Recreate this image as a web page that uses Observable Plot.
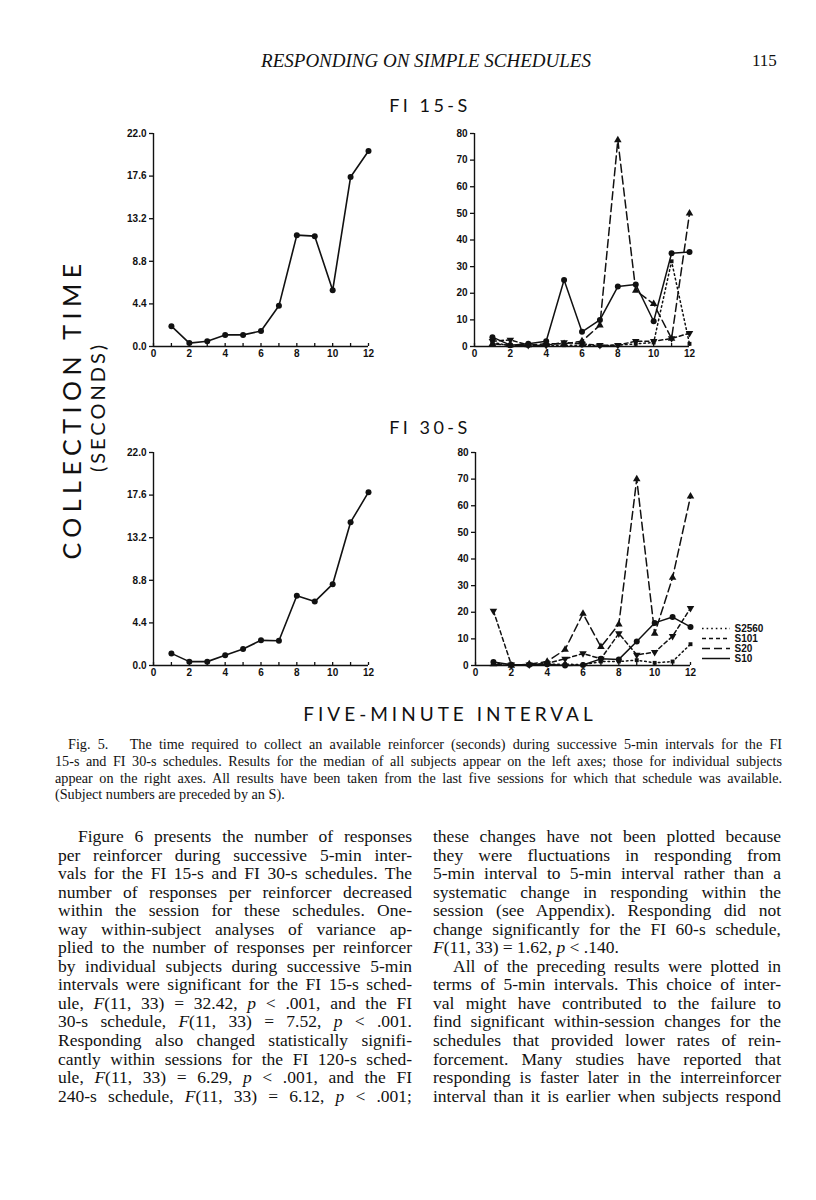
<!DOCTYPE html>
<html>
<head>
<meta charset="utf-8">
<script src="https://cdn.jsdelivr.net/npm/d3@7"></script>
<script src="https://cdn.jsdelivr.net/npm/@observablehq/plot@0.6"></script>
<style>
  html, body { margin: 0; padding: 0; background: #fff; }
  #page { position: relative; width: 816px; height: 1200px; background: #fff; overflow: hidden; color: #111; }
  .abs { position: absolute; }
  .hdr { font-family: "Liberation Serif", serif; font-style: italic; font-size: 19px; white-space: nowrap; }
  .pg { font-family: "Liberation Serif", serif; font-size: 17px; }
  .ttl { font-family: "Lato", "DejaVu Sans", sans-serif; font-weight: 400; font-size: 18px; letter-spacing: 3.5px; white-space: nowrap; text-align: center; }
  .rot { font-family: "Lato", "DejaVu Sans", sans-serif; font-weight: 400; white-space: nowrap; transform: translate(-50%, -50%) rotate(-90deg); transform-origin: center; }
  .cap { font-family: "Liberation Serif", serif; font-size: 14.2px; line-height: 16.8px; }
  .cap div, .col div { text-align: justify; text-align-last: justify; white-space: nowrap; }
  .cap div.last, .col div.last { text-align-last: left; }
  .col { font-family: "Liberation Serif", serif; font-size: 17.5px; line-height: 18.55px; }
  svg { overflow: visible; }
</style>
</head>
<body>
<div id="page">
  <div class="abs hdr" style="left:226px; top:50px; width:400px; text-align:center;">RESPONDING ON SIMPLE SCHEDULES</div>
  <div class="abs pg" style="left:752px; top:51px;">115</div>

  <div class="abs ttl" style="left:230px; top:94px; width:400px;">FI 15-S</div>
  <div class="abs ttl" style="left:230px; top:416px; width:400px;">FI 30-S</div>

  <div class="abs rot" style="left:71px; top:409px; font-size:25px; letter-spacing:5.5px;">COLLECTION TIME</div>
  <div class="abs rot" style="left:97px; top:407px; font-size:20px; letter-spacing:3px;">(SECONDS)</div>

  <div id="p1" class="abs" style="left:113px; top:125px;"></div>
  <div id="p2" class="abs" style="left:434px; top:125px;"></div>
  <div id="p3" class="abs" style="left:113px; top:444px;"></div>
  <div id="p4" class="abs" style="left:435px; top:444px;"></div>
  <div id="lg" class="abs" style="left:700px; top:617px;"></div>

  <div class="abs ttl" style="left:250px; top:702px; width:400px; font-size:19px; letter-spacing:4px;">FIVE-MINUTE INTERVAL</div>

  <div class="abs cap" style="left:55px; top:736px; width:727px;">
    <div style="padding-left:13px;">Fig. 5.&nbsp;&nbsp; The time required to collect an available reinforcer (seconds) during successive 5-min intervals for the FI</div>
    <div>15-s and FI 30-s schedules. Results for the median of all subjects appear on the left axes; those for individual subjects</div>
    <div>appear on the right axes. All results have been taken from the last five sessions for which that schedule was available.</div>
    <div class="last">(Subject numbers are preceded by an S).</div>
  </div>

  <div class="abs col" style="left:58px; top:827px; width:354px;">
    <div style="padding-left:20px;">Figure 6 presents the number of responses</div>
    <div>per reinforcer during successive 5-min inter-</div>
    <div>vals for the FI 15-s and FI 30-s schedules. The</div>
    <div>number of responses per reinforcer decreased</div>
    <div>within the session for these schedules. One-</div>
    <div>way within-subject analyses of variance ap-</div>
    <div>plied to the number of responses per reinforcer</div>
    <div>by individual subjects during successive 5-min</div>
    <div>intervals were significant for the FI 15-s sched-</div>
    <div>ule, <i>F</i>(11, 33) = 32.42, <i>p</i> &lt; .001, and the FI</div>
    <div>30-s schedule, <i>F</i>(11, 33) = 7.52, <i>p</i> &lt; .001.</div>
    <div>Responding also changed statistically signifi-</div>
    <div>cantly within sessions for the FI 120-s sched-</div>
    <div>ule, <i>F</i>(11, 33) = 6.29, <i>p</i> &lt; .001, and the FI</div>
    <div>240-s schedule, <i>F</i>(11, 33) = 6.12, <i>p</i> &lt; .001;</div>
  </div>

  <div class="abs col" style="left:433px; top:827px; width:348px;">
    <div>these changes have not been plotted because</div>
    <div>they were fluctuations in responding from</div>
    <div>5-min interval to 5-min interval rather than a</div>
    <div>systematic change in responding within the</div>
    <div>session (see Appendix). Responding did not</div>
    <div>change significantly for the FI 60-s schedule,</div>
    <div class="last"><i>F</i>(11, 33) = 1.62, <i>p</i> &lt; .140.</div>
    <div style="padding-left:20px;">All of the preceding results were plotted in</div>
    <div>terms of 5-min intervals. This choice of inter-</div>
    <div>val might have contributed to the failure to</div>
    <div>find significant within-session changes for the</div>
    <div>schedules that provided lower rates of rein-</div>
    <div>forcement. Many studies have reported that</div>
    <div>responding is faster later in the interreinforcer</div>
    <div>interval than it is earlier when subjects respond</div>
  </div>
</div>

<script>
// ---------- data ----------
const intervals = [1, 2, 3, 4, 5, 6, 7, 8, 9, 10, 11, 12];
const xTicks = [0, 2, 4, 6, 8, 10, 12];
const xMinor = [0, 1, 2, 3, 4, 5, 6, 7, 8, 9, 10, 11, 12];
const medianTicks = [0, 4.4, 8.8, 13.2, 17.6, 22.0];
const subjectTicks = [0, 10, 20, 30, 40, 50, 60, 70, 80];

// FI 15-s, median of all subjects (seconds)
const fi15Median = [2.1, 0.35, 0.55, 1.2, 1.2, 1.6, 4.2, 11.5, 11.4, 5.8, 17.5, 20.2];
// FI 30-s, median of all subjects (seconds)
const fi30Median = [1.25, 0.4, 0.4, 1.05, 1.7, 2.6, 2.55, 7.2, 6.6, 8.4, 14.8, 17.9];

// individual subjects
const subjects = ["S2560", "S101", "S20", "S10"];
const fi15S2560 = [1.5, 0.3, 0.3, 0.5, 0.5, 0.5, 0.3, 0.5, 1, 1.5, 32, 1];
const fi15S101 = [2, 2.5, 0.5, 0.5, 1.5, 1, 0.5, 0.5, 2, 2, 3, 5];
const fi15S20 = [1, 0.5, 0.5, 1, 1, 2, 8, 77.5, 21, 16, 3, 50];
const fi15S10 = [3.5, 0.5, 1, 2, 25, 5.5, 10, 22.5, 23.3, 9.5, 35, 35.5];

const fi30S2560 = [1, 0.3, 0.3, 0.5, 0.5, 0.3, 1.5, 1.5, 2, 1, 1.5, 8];
const fi30S101 = [20.5, 0.3, 0.3, 0.8, 2.5, 4.5, 2.5, 12, 4, 5, 11, 21.5];
const fi30S20 = [0.5, 0, 0.5, 1.5, 6, 19.5, 7, 15.5, 70, 12, 33, 63.5];
const fi30S10 = [1.3, 0.3, 0.3, 0.5, 0, 0.2, 2.5, 2.3, 9, 16, 18.2, 14.5];

// ---------- styles ----------
const seriesStyle = {
  S2560: {dash: "1.6,3", symbol: "square", r: 2.2, rotate: 0},
  S101: {dash: "4,3", symbol: "triangle", r: 2.8, rotate: 180},
  S20: {dash: "8,4", symbol: "triangle", r: 2.8, rotate: 0},
  S10: {dash: null, symbol: "circle", r: 3, rotate: 0}
};

const fontStyle = {fontFamily: "'Liberation Sans', Arial, sans-serif", fontWeight: "bold", fontSize: "10px", color: "#111", background: "transparent", overflow: "visible"};
const toRows = (vals) => intervals.map((x, i) => ({x, y: vals[i]}));

function frame(yDomain, yTicks, fmt) {
  return {
    opts: {
      width: 265, height: 243,
      marginLeft: 40, marginRight: 10, marginTop: 8, marginBottom: 22,
      x: {domain: [0, 12]},
      y: {domain: yDomain},
      style: fontStyle
    },
    axisMarks: [
      Plot.axisY({ticks: yTicks, tickSize: 4, tickPadding: 3, tickFormat: fmt, label: null, strokeWidth: 1.3}),
      Plot.axisX({ticks: xTicks, tickSize: 0, tickPadding: 3, tickFormat: d => String(d), label: null}),
      Plot.axisX({ticks: xMinor, tickSize: -3, tickFormat: () => "", label: null, strokeWidth: 1.3}),
      Plot.ruleX([0], {stroke: "#111", strokeWidth: 1.4}),
      Plot.ruleY([0], {stroke: "#111", strokeWidth: 1.4})
    ]
  };
}

function medianPlot(vals) {
  const {opts, axisMarks} = frame([0, 22], medianTicks, d => d.toFixed(1));
  const rows = toRows(vals);
  return Plot.plot({
    ...opts,
    marks: [
      ...axisMarks,
      Plot.line(rows, {x: "x", y: "y", stroke: "#111", strokeWidth: 1.6}),
      Plot.dot(rows, {x: "x", y: "y", r: 3, fill: "#111", stroke: "none"})
    ]
  });
}

function subjectPlot(seriesVals) {
  const {opts, axisMarks} = frame([0, 80], subjectTicks, d => String(d));
  const marks = [...axisMarks];
  subjects.forEach((s) => {
    const st = seriesStyle[s];
    const rows = toRows(seriesVals[s]);
    marks.push(Plot.line(rows, {x: "x", y: "y", stroke: "#111", strokeWidth: 1.5, strokeDasharray: st.dash}));
    marks.push(Plot.dot(rows, {x: "x", y: "y", r: st.r, symbol: st.symbol, rotate: st.rotate, fill: "#111", stroke: "none"}));
  });
  return Plot.plot({...opts, marks});
}

document.getElementById("p1").append(medianPlot(fi15Median));
document.getElementById("p2").append(subjectPlot({S2560: fi15S2560, S101: fi15S101, S20: fi15S20, S10: fi15S10}));
document.getElementById("p3").append(medianPlot(fi30Median));
document.getElementById("p4").append(subjectPlot({S2560: fi30S2560, S101: fi30S101, S20: fi30S20, S10: fi30S10}));

// legend
const legendMarks = [];
subjects.forEach((s) => {
  legendMarks.push(Plot.ruleY([s], {y: d => d, x1: 0, x2: 1, stroke: "#111", strokeWidth: 1.5, strokeDasharray: seriesStyle[s].dash}));
});
legendMarks.push(Plot.text(subjects, {x: 1, y: d => d, text: d => d, dx: 4, textAnchor: "start"}));
document.getElementById("lg").append(Plot.plot({
  width: 78, height: 52,
  marginLeft: 2, marginRight: 48, marginTop: 6, marginBottom: 6,
  x: {domain: [0, 1], axis: null},
  y: {type: "point", domain: subjects, axis: null},
  style: fontStyle,
  marks: legendMarks
}));
</script>
</body>
</html>
